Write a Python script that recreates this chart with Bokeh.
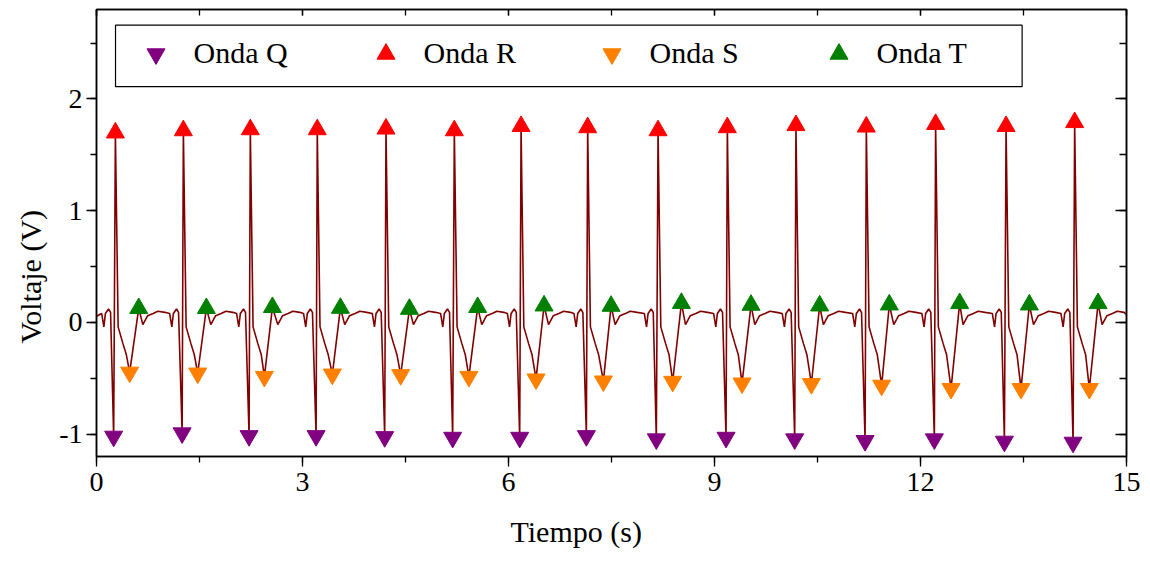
from bokeh.plotting import figure
from bokeh.models import (Range1d, LinearAxis, FixedTicker, CustomJSTickFormatter,
                          Legend, LegendItem, BoxAnnotation, Title)
from bokeh.embed import file_html
from bokeh.resources import INLINE

# ---------------- data ----------------
# Q wave (local minima before R)
q_t = [0.250, 1.247, 2.222, 3.198, 4.197, 5.187, 6.163, 7.134, 8.153, 9.168,
       10.168, 11.193, 12.202, 13.222, 14.222]
q_v = [-1.020, -0.990, -1.015, -1.015, -1.024, -1.030, -1.030, -1.015, -1.044, -1.030,
       -1.044, -1.059, -1.044, -1.065, -1.074]
# R wave (peaks)
r_t = [0.275, 1.265, 2.240, 3.215, 4.216, 5.211, 6.183, 7.153, 8.178, 9.187,
       10.186, 11.211, 12.220, 13.246, 14.245]
r_v = [1.697, 1.717, 1.726, 1.726, 1.732, 1.717, 1.755, 1.744, 1.717, 1.744,
       1.763, 1.750, 1.773, 1.755, 1.790]
# S wave (minima after R)
s_t = [0.483, 1.474, 2.445, 3.435, 4.430, 5.423, 6.401, 7.382, 8.391, 9.401,
       10.411, 11.434, 12.445, 13.464, 14.459]
s_v = [-0.447, -0.455, -0.485, -0.464, -0.469, -0.485, -0.508, -0.526, -0.529, -0.544,
       -0.549, -0.564, -0.593, -0.593, -0.593]
# T wave (peaks after S)
t_t = [0.615, 1.600, 2.562, 3.552, 4.557, 5.551, 6.518, 7.494, 8.518, 9.532,
       10.531, 11.546, 12.570, 13.585, 14.586]
t_v = [0.126, 0.126, 0.135, 0.128, 0.119, 0.135, 0.149, 0.146, 0.172, 0.155,
       0.149, 0.158, 0.170, 0.158, 0.170]

# shape of one beat between the marked points (offsets from the R time, volts)
pre_dt = [-0.200, -0.168, -0.145, -0.100, -0.070]
pre_v = [0.080, -0.040, 0.080, 0.120, 0.090]
down_dt = [0.040, 0.110, 0.160]
down_v = [-0.040, -0.190, -0.290]
tail_dt = [0.400, 0.470, 0.550, 0.620, 0.720]
tail_v = [-0.020, 0.060, 0.080, 0.100, 0.090]
start_v = 0.055
end_v = 0.070

x_ticks = [0, 3, 6, 9, 12, 15]
x_minor = [0, 1.5, 3, 4.5, 6, 7.5, 9, 10.5, 12, 13.5, 15]
y_ticks = [-1, 0, 1, 2]
y_minor = [-1, -0.5, 0, 0.5, 1, 1.5, 2, 2.5]

labels = ["Onda Q", "Onda R", "Onda S", "Onda T"]
x_title = "Tiempo (s)"
y_title = "Voltaje (V)"

# ---------------- build the trace ----------------
trace_t = [0.0]
trace_v = [start_v]
for i in range(len(r_t)):
    tr = r_t[i]
    for dt, v in zip(pre_dt, pre_v):
        trace_t.append(tr + dt); trace_v.append(v)
    trace_t.append(q_t[i]); trace_v.append(q_v[i])
    trace_t.append(r_t[i]); trace_v.append(r_v[i])
    for dt, v in zip(down_dt, down_v):
        trace_t.append(tr + dt); trace_v.append(v)
    trace_t.append(s_t[i]); trace_v.append(s_v[i])
    trace_t.append(t_t[i]); trace_v.append(t_v[i])
    for dt, v in zip(tail_dt, tail_v):
        trace_t.append(tr + dt); trace_v.append(v)
trace_t.append(15.0)
trace_v.append(end_v)

FONT = "Liberation Serif"

p = figure(width=1150, height=566, x_range=Range1d(0, 15), y_range=Range1d(-1.2, 2.8),
           output_backend="svg", toolbar_location=None,
           x_axis_location=None, y_axis_location=None,
           min_border_left=96, min_border_right=24, min_border_top=9, min_border_bottom=105)
p.grid.visible = False
p.outline_line_color = "black"
p.outline_line_width = 1.5
p.background_fill_color = "white"
p.border_fill_color = "white"

xt = FixedTicker(ticks=x_ticks, minor_ticks=x_minor)
yt = FixedTicker(ticks=y_ticks, minor_ticks=y_minor)
blank = CustomJSTickFormatter(code="return ''")


def style(ax, out_major, out_minor, in_major, in_minor, show):
    ax.major_tick_out = out_major
    ax.minor_tick_out = out_minor
    ax.major_tick_in = in_major
    ax.minor_tick_in = in_minor
    ax.axis_line_color = "black"
    ax.axis_line_width = 1.5
    ax.major_tick_line_color = "black"
    ax.minor_tick_line_color = "black"
    ax.major_tick_line_width = 1.3
    ax.minor_tick_line_width = 1.3
    if show:
        ax.major_label_text_font = FONT
        ax.major_label_text_font_size = "28px"
        ax.major_label_text_color = "black"
    else:
        ax.formatter = blank
        ax.major_label_text_font_size = "1px"
        ax.major_label_standoff = 0


xb = LinearAxis(ticker=xt)
style(xb, 10, 6, 0, 0, True)
xb.major_label_standoff = 6
p.add_layout(xb, "below")

xa = LinearAxis(ticker=xt)
style(xa, 0, 0, 6, 6, False)
p.add_layout(xa, "above")

yl = LinearAxis(ticker=yt)
style(yl, 10, 6, 0, 0, True)
yl.major_label_standoff = 4
yl.major_label_overrides = {-1: "-1"}
p.add_layout(yl, "left")

yr = LinearAxis(ticker=yt)
style(yr, 0, 0, 11, 7, False)
p.add_layout(yr, "right")

# axis titles, centred on the whole figure as in the reference
p.add_layout(Title(text=x_title, align="left", offset=414, standoff=38,
                   text_line_height=0.5,
                   text_font=FONT, text_font_size="30px", text_font_style="normal",
                   text_color="black"), "below")
p.add_layout(Title(text=y_title, align="left", offset=113, standoff=19,
                   text_font=FONT, text_font_size="30px", text_font_style="normal",
                   text_color="black"), "left")

# ECG trace
p.line(trace_t, trace_v, line_color="#800000", line_width=1.6)

# wave markers
rq = p.scatter(q_t, q_v, marker="inverted_triangle", size=18, fill_color="#800080", line_color="#800080")
rr = p.scatter(r_t, r_v, marker="triangle", size=18, fill_color="#ff0000", line_color="#ff0000")
rs = p.scatter(s_t, s_v, marker="inverted_triangle", size=18, fill_color="#ff8000", line_color="#ff8000")
rt = p.scatter(t_t, t_v, marker="triangle", size=18, fill_color="#008000", line_color="#008000")

# legend frame
box = BoxAnnotation(left=0.277, right=13.48, bottom=2.109, top=2.66,
                    fill_color="white", fill_alpha=1.0, line_color="black",
                    line_alpha=1.0, line_width=1.2)
p.add_layout(box)

# legend entries, placed one by one (location = bottom-left corner, frame pixels)
marker_px = [155, 385, 611, 838]
for rend, lab, cx in zip([rq, rr, rs, rt], labels, marker_px):
    leg = Legend(items=[LegendItem(label=lab, renderers=[rend])],
                 location=(cx - 22.5 - 96, 461 - (58 + 22.5)),
                 orientation="horizontal", glyph_width=45, glyph_height=45,
                 label_standoff=16, padding=0, margin=0, spacing=0,
                 border_line_alpha=0, background_fill_alpha=0,
                 label_text_font=FONT, label_text_font_size="30px",
                 label_text_color="black")
    p.add_layout(leg, "center")

open("out.html", "w").write(file_html(p, INLINE))
